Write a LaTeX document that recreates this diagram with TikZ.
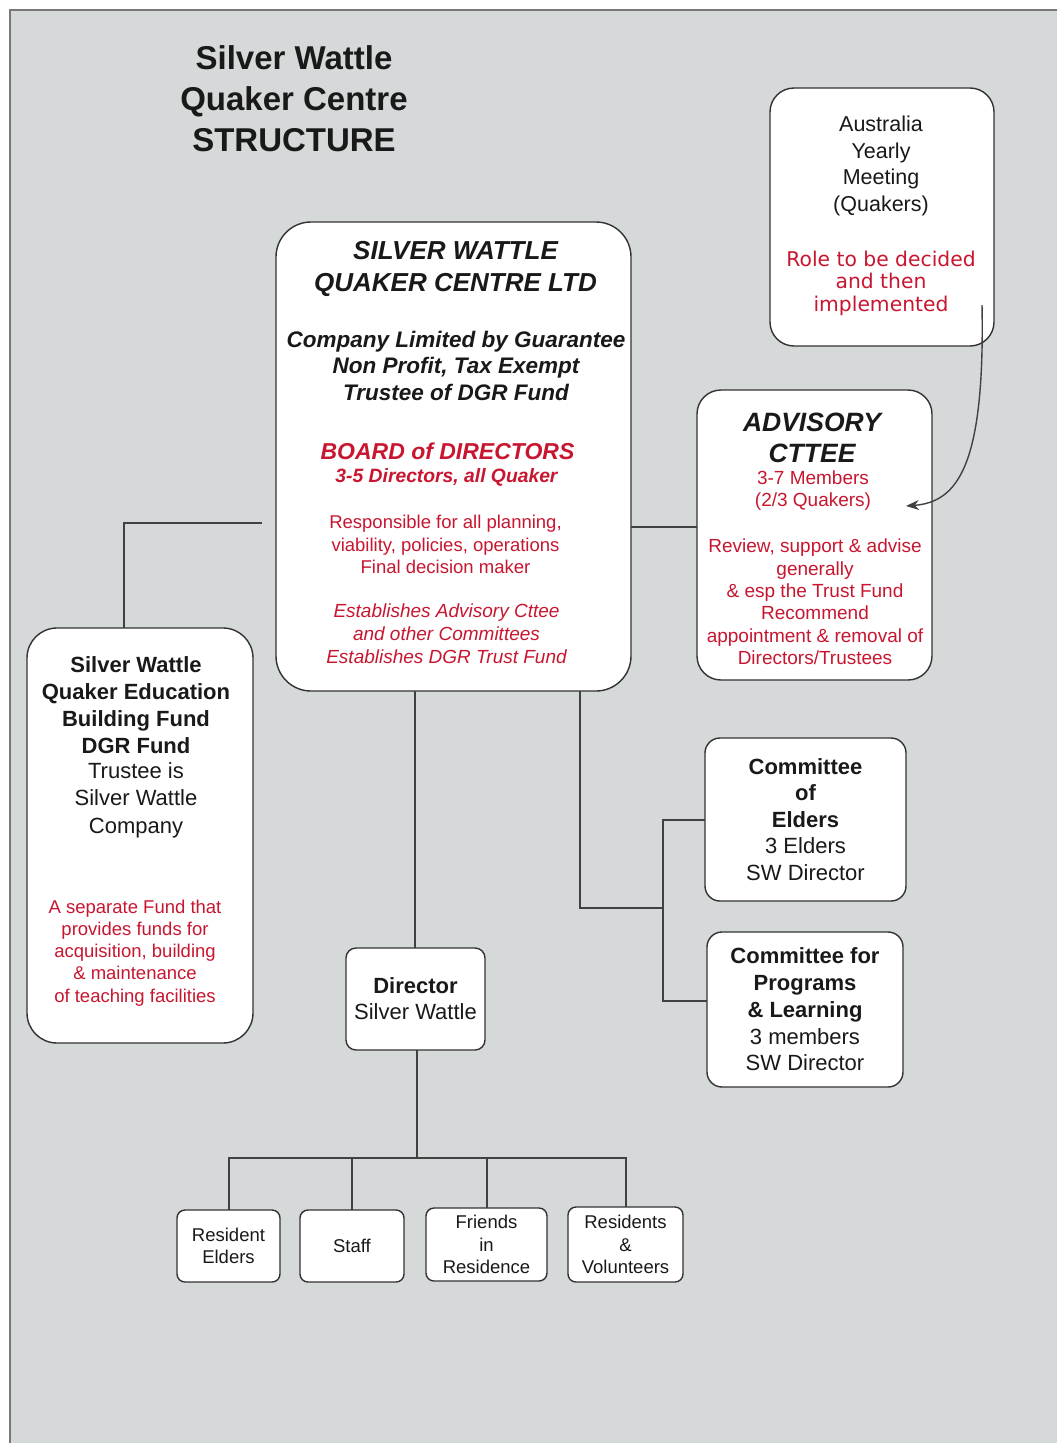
\documentclass[tikz,border=0pt]{standalone}
\usepackage{fontspec}
\setmainfont{Liberation Sans}
\newfontfamily\verdanalike{DejaVu Sans}
\usetikzlibrary{arrows.meta}
\definecolor{bgc}{RGB}{214,217,217}
\definecolor{framec}{RGB}{120,120,120}
\definecolor{ink}{RGB}{25,25,25}
\definecolor{redtxt}{RGB}{200,22,48}
\definecolor{boxline}{RGB}{50,50,50}
\definecolor{connc}{RGB}{65,65,65}
\newcommand\myfs[2]{\fontsize{#1}{#2}\selectfont}
\begin{document}
\begin{tikzpicture}[x=1pt,y=-1pt,
  box/.style={draw=boxline, line width=1.4pt, fill=white, rounded corners=#1, inner sep=0pt, outer sep=0pt},
  box/.default=14pt,
  txt/.style={align=center, inner sep=0pt, text=ink},
  rtxt/.style={align=center, inner sep=0pt, text=redtxt},
  conn/.style={draw=connc, line width=2pt},
]
\useasboundingbox (0,0) rectangle (1057,1443);
\fill[white] (0,0) rectangle (1057,1443);
\fill[bgc] (10,10) rectangle (1057,1443);
\draw[framec, line width=2pt] (10,1443) -- (10,10) -- (1057,10);

% title
\node[txt, font=\bfseries\myfs{33}{41}] (title) at (294,99) {Silver Wattle\\Quaker Centre\\STRUCTURE};

% main box
\node[box=35pt, minimum width=355pt, minimum height=469pt] (main) at (453.5,456.5) {};
\node[txt, font=\bfseries\itshape\myfs{26}{32}] (mainA) at (455.5,269) {SILVER WATTLE\\QUAKER CENTRE LTD};
\node[txt, font=\bfseries\itshape\myfs{22.5}{26.5}] (mainB) at (456,365.5) {Company Limited by Guarantee\\Non Profit, Tax Exempt\\Trustee of DGR Fund};
\node[rtxt, font=\bfseries\itshape\myfs{23}{27}] (mainC) at (447.5,451) {BOARD of DIRECTORS};
\node[rtxt, font=\bfseries\itshape\myfs{19.3}{22}] (mainD) at (446.5,477) {3-5 Directors, all Quaker};
\node[rtxt, font=\myfs{18.5}{22.5}] (mainE) at (445.5,544.5) {Responsible for all planning,\\viability, policies, operations\\Final decision maker};
\node[rtxt, font=\itshape\myfs{19}{23}] (mainF) at (446.5,634) {Establishes Advisory Cttee\\and other Committees\\Establishes DGR Trust Fund};

% Australia Yearly Meeting
\node[box=24pt, minimum width=224pt, minimum height=258pt] (aym) at (882,217) {};
\node[txt, font=\myfs{21.5}{26.7}] (aymA) at (881,166) {Australia\\Yearly\\Meeting\\(Quakers)};
\node[rtxt, font=\verdanalike\myfs{20.3}{22.5}] (aymB) at (881,283) {Role to be decided\\and then\\implemented};

% Advisory
\node[box=24pt, minimum width=235pt, minimum height=290pt] (adv) at (814.5,535) {};
\node[txt, font=\bfseries\itshape\myfs{26.5}{31}] (advA) at (812,437.5) {ADVISORY\\CTTEE};
\node[rtxt, font=\myfs{19}{22}] (advB) at (813,491) {3-7 Members\\(2/3 Quakers)};
\node[rtxt, font=\myfs{19}{22.4}] (advC) at (815,602) {Review, support \& advise\\generally\\\& esp the Trust Fund\\Recommend\\appointment \& removal of\\Directors/Trustees};

% Fund
\node[box=30pt, minimum width=226pt, minimum height=415pt] (fund) at (140,835.5) {};
\node[txt, font=\bfseries\myfs{22}{27}] (fundA) at (136,705) {Silver Wattle\\Quaker Education\\Building Fund\\DGR Fund};
\node[txt, font=\myfs{22}{27.5}] (fundB) at (136,800) {Trustee is\\Silver Wattle\\Company};
\node[rtxt, font=\myfs{18.5}{22.2}] (fundC) at (135,953) {A separate Fund that\\provides funds for\\acquisition, building\\\& maintenance\\of teaching facilities};

% Committees
\node[box=15pt, txt, minimum width=201pt, minimum height=163pt, font=\myfs{22}{26.5}] (elders) at (805.5,819.5) {\textbf{Committee}\\\textbf{of}\\\textbf{Elders}\\3 Elders\\SW Director};
\node[box=15pt, txt, minimum width=196pt, minimum height=155pt, font=\myfs{22}{26.75}] (programs) at (805,1009.5) {\textbf{Committee for}\\\textbf{Programs}\\\textbf{\& Learning}\\3 members\\SW Director};

% Director
\node[box=10pt, txt, minimum width=139pt, minimum height=102pt, font=\myfs{22}{26}] (director) at (415.5,999) {\textbf{Director}\\Silver Wattle};

% bottom row
\node[box=8pt, txt, minimum width=103pt, minimum height=72pt, font=\myfs{18.5}{22}] (resel) at (228.5,1246) {Resident\\Elders};
\node[box=8pt, txt, minimum width=104pt, minimum height=72pt, font=\myfs{18.5}{22}] (staff) at (352,1246) {Staff};
\node[box=8pt, txt, minimum width=121pt, minimum height=73pt, font=\myfs{18.5}{22.5}] (friends) at (486.5,1244.5) {Friends\\in\\Residence};
\node[box=8pt, txt, minimum width=115pt, minimum height=75pt, font=\myfs{18.5}{22.5}] (resvol) at (625.5,1244.5) {Residents\\\&\\Volunteers};

% connectors
\coordinate (fundTurn) at (124,523);
\draw[conn] (main.west |- fundTurn) ++(-14,0) -- (fundTurn) -- (fundTurn |- fund.north);
\coordinate (advJ) at (664,527);
\draw[conn] (main.east |- advJ) -- (adv.west |- advJ);
\coordinate (dtop) at (415,900);
\draw[conn] (main.south -| dtop) -- (director.north -| dtop);
\coordinate (cdrop) at (580,908);
\coordinate (cj) at (663,908);
\coordinate (ej) at (663,820);
\coordinate (pj) at (663,1001);
\draw[conn] (main.south -| cdrop) -- (cdrop) -- (cj);
\draw[conn] (elders.west |- ej) -- (ej) -- (pj) -- (programs.west |- pj);
\coordinate (dj) at (417,1158);
\coordinate (rej) at (229,1158);
\coordinate (frj) at (487,1158);
\coordinate (rvj) at (626,1158);
\draw[conn] (director.south -| dj) -- (dj);
\draw[conn] (resel.north -| rej) -- (rej) -- (rvj) -- (resvol.north -| rvj);
\draw[conn] (staff.north) -- (staff.north |- dj);
\draw[conn] (friends.north -| frj) -- (frj);

% arrow from AYM to advisory
\coordinate (arrS) at (982,305);
\coordinate (arrE) at (906,506);
\draw[conn, line width=1.4pt, -{Stealth[length=13pt,width=10pt]}] (arrS) .. controls (985,465) and (958,502) .. (arrE);
\end{tikzpicture}
\end{document}
